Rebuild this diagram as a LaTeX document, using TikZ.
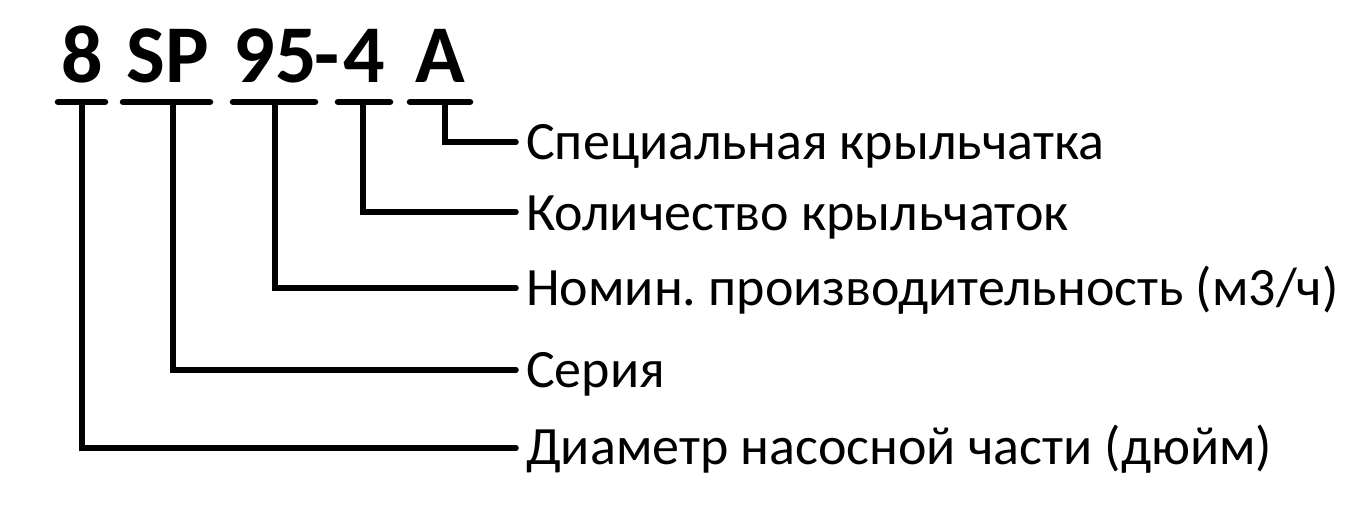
\documentclass[tikz,border=0pt]{standalone}
\usepackage{fontspec}
\setmainfont{Carlito}
\frenchspacing
\begin{document}
\begin{tikzpicture}[x=1pt,y=-1pt,
  lead/.style={line width=5.5pt,line cap=round,line join=miter},
  bar/.style={line width=6.5pt,line cap=round},
  code/.style={anchor=base,inner sep=0pt,font=\fontsize{82}{90}\selectfont\bfseries},
  lbl/.style={anchor=base west,inner sep=0pt,font=\fontsize{54}{60}\selectfont}]
\useasboundingbox (0,0) rectangle (1349,506);
% code characters
\node[code] (c8) at (82,82) {8};
\node[code] (cSP) at (168,82) {SP};
\node[code] (c95) at (275,82) {95};
\node[code] (cdash) at (327,82) {-};
\node[code] (c4) at (364,82) {4};
\node[code] (cA) at (440,82) {A};
% bars
\coordinate (b1l) at (58,102); \coordinate (b1r) at (105,102);
\coordinate (b2l) at (123,102); \coordinate (b2r) at (210,102);
\coordinate (b3l) at (233,102); \coordinate (b3r) at (315,102);
\coordinate (b4l) at (338,102); \coordinate (b4r) at (390,102);
\coordinate (b5l) at (410,102); \coordinate (b5r) at (470,102);
\foreach \i in {1,...,5} \draw[bar] (b\i l) -- (b\i r);
% labels
\node[lbl] (t1) at (526,159) {Специальная крыльчатка};
\node[lbl] (t2) at (526,230) {Количество крыльчаток};
\node[lbl] (t3) at (526,305) {Номин.\ производительность (м3/ч)};
\node[lbl] (t4) at (526,387) {Серия};
\node[lbl] (t5) at (526,464) {Диаметр насосной части (дюйм)};
% leaders
\coordinate (e1) at (516,142); \coordinate (e2) at (516,212);
\coordinate (e3) at (516,288); \coordinate (e4) at (516,370);
\coordinate (e5) at (516,448);
\draw[lead] (445,102) |- (e1);
\draw[lead] (363,102) |- (e2);
\draw[lead] (275,102) |- (e3);
\draw[lead] (173,105) |- (e4);
\draw[lead] (82,105) |- (e5);
\end{tikzpicture}
\end{document}
